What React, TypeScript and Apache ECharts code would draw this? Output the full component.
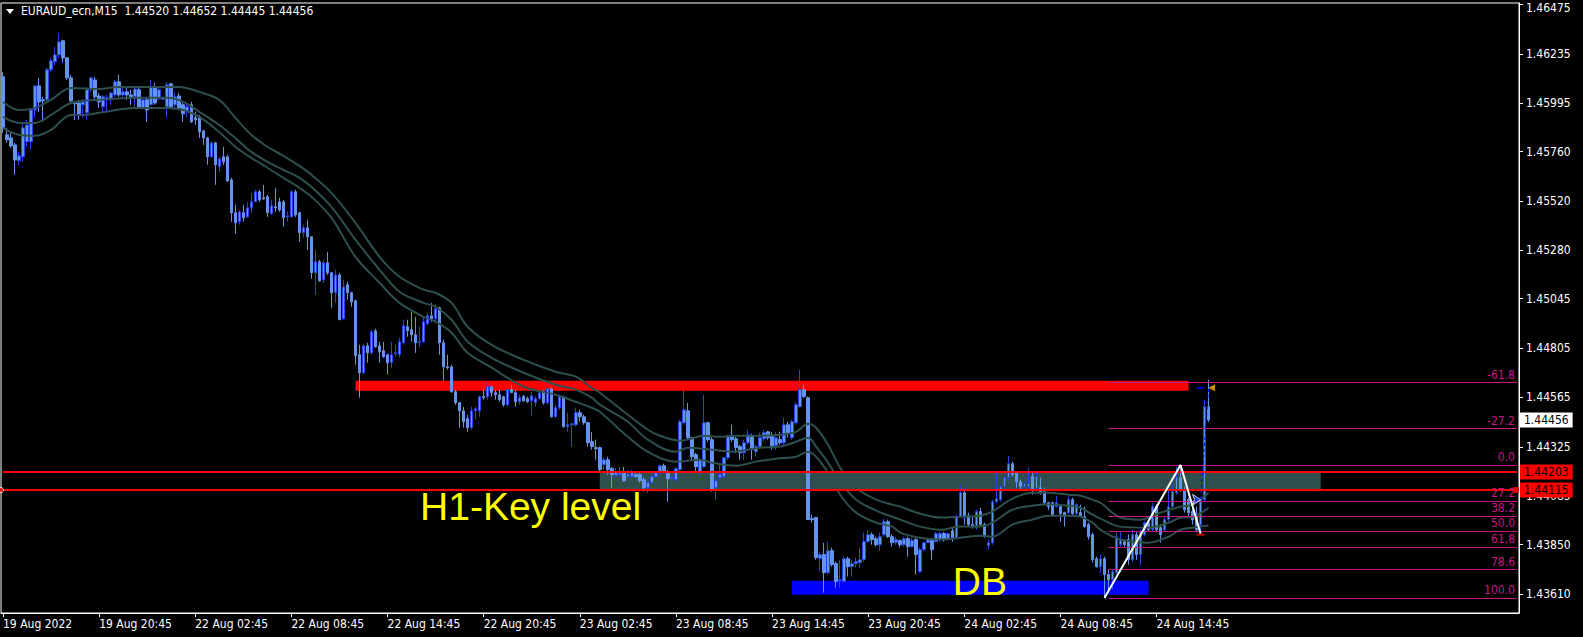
import React, { useEffect, useRef } from "react";
import * as echarts from "echarts";

const SYMBOL = "EURAUD_ecn,M15";
const N_SLOTS = 379;

const opens = [
1.46124,1.45842,1.45827,1.45793,1.45716,1.45735,1.45808,1.45808,1.45963,1.46080,
1.46012,1.46012,1.46158,1.46197,1.46231,1.46299,1.46216,1.46119,1.45997,1.45997,
1.45988,1.45949,1.46061,1.46109,1.46031,1.45978,1.46017,1.46012,1.46036,1.46100,
1.46036,1.46051,1.46036,1.46027,1.46061,1.45973,1.46012,1.45988,1.46075,1.46017,
1.46022,1.45978,1.46090,1.45988,1.46031,1.45988,1.45954,1.45988,1.45925,1.45929,
1.45861,1.45827,1.45735,1.45803,1.45686,1.45735,1.45735,1.45623,1.45463,1.45419,
1.45463,1.45443,1.45487,1.45516,1.45565,1.45536,1.45541,1.45458,1.45492,1.45516,
1.45516,1.45443,1.45443,1.45565,1.45463,1.45366,1.45390,1.45346,1.45171,1.45225,
1.45137,1.45220,1.45171,1.45074,1.45161,1.44948,1.45113,1.45074,1.45035,1.44773,
1.44685,1.44816,1.44782,1.44889,1.44816,1.44792,1.44773,1.44734,1.44778,1.44773,
1.44831,1.44909,1.44894,1.44870,1.44831,1.44836,1.44923,1.44962,1.44948,1.45001,
1.44831,1.44714,1.44714,1.44593,1.44539,1.44500,1.44462,1.44418,1.44500,1.44500,
1.44569,1.44569,1.44617,1.44588,1.44578,1.44569,1.44530,1.44603,1.44588,1.44544,
1.44569,1.44559,1.44549,1.44539,1.44559,1.44593,1.44539,1.44607,1.44471,1.44515,
1.44569,1.44423,1.44432,1.44432,1.44491,1.44471,1.44442,1.44350,1.44321,1.44321,
1.44238,1.44262,1.44219,1.44185,1.44190,1.44199,1.44180,1.44180,1.44190,1.44190,
1.44165,1.44126,1.44151,1.44180,1.44199,1.44233,1.44204,1.44170,1.44165,1.44214,
1.44442,1.44500,1.44369,1.44287,1.44199,1.44228,1.44442,1.44360,1.44126,1.44175,
1.44180,1.44272,1.44379,1.44364,1.44326,1.44296,1.44345,1.44379,1.44301,1.44326,
1.44364,1.44398,1.44379,1.44330,1.44360,1.44345,1.44432,1.44369,1.44442,1.44520,
1.44603,1.44564,1.43976,1.43981,1.43781,1.43801,1.43713,1.43820,1.43757,1.43674,
1.43670,1.43781,1.43742,1.43757,1.43762,1.43776,1.43864,1.43898,1.43878,1.43849,
1.43898,1.43961,1.43888,1.43859,1.43869,1.43849,1.43878,1.43840,1.43874,1.43718,
1.43825,1.43859,1.43874,1.43864,1.43874,1.43903,1.43878,1.43917,1.43883,1.43985,
1.44102,1.43990,1.43947,1.43932,1.44010,1.43947,1.43844,1.43859,1.44058,1.44068,
1.44131,1.44175,1.44243,1.44199,1.44155,1.44131,1.44131,1.44180,1.44121,1.44126,
1.44107,1.44053,1.44053,1.44034,1.44034,1.44005,1.44005,1.44068,1.44000,1.44005,
1.43985,1.43947,1.43898,1.43781,1.43742,1.43781,1.43704,1.43679,1.43713,1.43849,
1.43864,1.43874,1.43776,1.43898,1.43801,1.43898,1.43956,1.43922,1.44034,1.43932,
1.43922,1.43971,1.44034,1.44102,1.44175,1.44117,1.44068,1.44010,1.43995,1.43947,
1.44068,1.44520];

const highs = [
1.46148,1.45876,1.45852,1.45803,1.45759,1.45905,1.45915,1.45973,1.46085,1.46119,
1.46027,1.46168,1.46216,1.46270,1.46338,1.46304,1.46221,1.46134,1.46007,1.46012,
1.46017,1.46075,1.46124,1.46124,1.46046,1.46036,1.46036,1.46051,1.46109,1.46134,
1.46075,1.46070,1.46061,1.46070,1.46070,1.46022,1.46022,1.46109,1.46095,1.46070,
1.46027,1.46100,1.46095,1.46046,1.46046,1.45997,1.46002,1.46002,1.45954,1.45939,
1.45866,1.45832,1.45808,1.45808,1.45735,1.45784,1.45745,1.45633,1.45502,1.45477,
1.45502,1.45516,1.45560,1.45575,1.45575,1.45599,1.45550,1.45526,1.45584,1.45536,
1.45526,1.45468,1.45575,1.45575,1.45468,1.45405,1.45429,1.45346,1.45283,1.45234,
1.45234,1.45273,1.45176,1.45186,1.45171,1.45137,1.45127,1.45079,1.45040,1.44821,
1.44826,1.44831,1.44894,1.44899,1.44836,1.44836,1.44778,1.44836,1.44821,1.44855,
1.44943,1.44943,1.44982,1.44957,1.44909,1.44957,1.44977,1.45025,1.45021,1.45006,
1.44846,1.44773,1.44724,1.44603,1.44544,1.44520,1.44481,1.44520,1.44520,1.44573,
1.44603,1.44641,1.44617,1.44603,1.44603,1.44573,1.44612,1.44627,1.44603,1.44578,
1.44578,1.44569,1.44593,1.44569,1.44593,1.44603,1.44622,1.44612,1.44530,1.44578,
1.44573,1.44491,1.44442,1.44515,1.44505,1.44481,1.44447,1.44398,1.44360,1.44326,
1.44272,1.44277,1.44228,1.44224,1.44228,1.44228,1.44214,1.44214,1.44199,1.44199,
1.44175,1.44155,1.44190,1.44209,1.44238,1.44243,1.44214,1.44190,1.44228,1.44457,
1.44632,1.44539,1.44374,1.44296,1.44272,1.44578,1.44447,1.44374,1.44175,1.44238,
1.44277,1.44384,1.44432,1.44374,1.44335,1.44360,1.44408,1.44389,1.44335,1.44394,
1.44408,1.44403,1.44398,1.44398,1.44398,1.44467,1.44447,1.44457,1.44544,1.44700,
1.44627,1.44569,1.43995,1.43985,1.43810,1.43859,1.43864,1.43835,1.43767,1.43776,
1.43791,1.43791,1.43776,1.43786,1.43835,1.43908,1.43922,1.43908,1.43888,1.43908,
1.43976,1.43971,1.43898,1.43888,1.43874,1.43888,1.43888,1.43883,1.43883,1.43835,
1.43864,1.43883,1.43883,1.43912,1.43912,1.43912,1.43908,1.43932,1.43995,1.44141,
1.44117,1.44005,1.43990,1.44019,1.44029,1.43956,1.43874,1.44068,1.44199,1.44141,
1.44180,1.44282,1.44253,1.44204,1.44165,1.44151,1.44224,1.44199,1.44199,1.44175,
1.44126,1.44058,1.44058,1.44087,1.44044,1.44010,1.44083,1.44078,1.44049,1.44044,
1.44034,1.43956,1.43908,1.43791,1.43801,1.43791,1.43728,1.43728,1.43908,1.43912,
1.43874,1.43898,1.43922,1.43912,1.43922,1.43966,1.43971,1.44053,1.44044,1.43947,
1.43985,1.44117,1.44141,1.44228,1.44237,1.44131,1.44078,1.44034,1.44034,1.44078,
1.44554,1.44652];

const lows = [
1.45852,1.45803,1.45779,1.45648,1.45696,1.45711,1.45784,1.45769,1.45925,1.45954,
1.45905,1.46002,1.46148,1.46182,1.46216,1.46192,1.46109,1.46002,1.45915,1.45915,
1.45925,1.45915,1.46051,1.46017,1.45973,1.45949,1.45954,1.45988,1.46027,1.46027,
1.46027,1.46012,1.45988,1.45978,1.45973,1.45963,1.45905,1.45988,1.45988,1.46012,
1.46012,1.45925,1.45973,1.45963,1.45963,1.45905,1.45929,1.45900,1.45890,1.45827,
1.45793,1.45696,1.45730,1.45599,1.45662,1.45696,1.45613,1.45419,1.45361,1.45405,
1.45419,1.45439,1.45463,1.45516,1.45516,1.45526,1.45443,1.45453,1.45468,1.45468,
1.45395,1.45419,1.45439,1.45443,1.45322,1.45341,1.45283,1.45142,1.45064,1.45127,
1.45123,1.45161,1.45001,1.45025,1.44943,1.44943,1.45040,1.45006,1.44724,1.44564,
1.44676,1.44734,1.44773,1.44807,1.44734,1.44758,1.44676,1.44710,1.44763,1.44758,
1.44821,1.44860,1.44836,1.44782,1.44812,1.44831,1.44919,1.44933,1.44933,1.44773,
1.44646,1.44700,1.44588,1.44530,1.44418,1.44418,1.44398,1.44408,1.44457,1.44471,
1.44554,1.44554,1.44569,1.44554,1.44544,1.44520,1.44520,1.44588,1.44520,1.44530,
1.44544,1.44539,1.44476,1.44520,1.44554,1.44530,1.44530,1.44467,1.44467,1.44505,
1.44418,1.44398,1.44326,1.44423,1.44447,1.44432,1.44326,1.44311,1.44262,1.44204,
1.44214,1.44190,1.44126,1.44175,1.44175,1.44155,1.44165,1.44165,1.44175,1.44151,
1.44107,1.44102,1.44141,1.44175,1.44190,1.44199,1.44058,1.44126,1.44155,1.44204,
1.44432,1.44360,1.44262,1.44199,1.44175,1.44224,1.44350,1.44107,1.44068,1.44165,
1.44175,1.44262,1.44350,1.44296,1.44262,1.44262,1.44335,1.44262,1.44277,1.44321,
1.44350,1.44360,1.44311,1.44311,1.44335,1.44335,1.44369,1.44360,1.44432,1.44515,
1.44564,1.43971,1.43956,1.43776,1.43718,1.43616,1.43704,1.43742,1.43640,1.43640,
1.43665,1.43694,1.43694,1.43738,1.43738,1.43767,1.43859,1.43849,1.43840,1.43820,
1.43888,1.43883,1.43840,1.43849,1.43835,1.43840,1.43791,1.43835,1.43704,1.43713,
1.43815,1.43859,1.43776,1.43859,1.43864,1.43864,1.43869,1.43864,1.43874,1.43981,
1.43947,1.43937,1.43927,1.43922,1.43937,1.43883,1.43825,1.43849,1.44053,1.44058,
1.44126,1.44165,1.44180,1.44126,1.44117,1.44126,1.44117,1.44092,1.44117,1.44092,
1.44044,1.44019,1.43985,1.44029,1.43961,1.43937,1.43995,1.43990,1.43990,1.43981,
1.43932,1.43874,1.43762,1.43738,1.43713,1.43590,1.43631,1.43631,1.43704,1.43840,
1.43840,1.43752,1.43767,1.43776,1.43752,1.43888,1.43912,1.43912,1.43908,1.43859,
1.43912,1.43961,1.44029,1.44092,1.44107,1.44005,1.43985,1.43947,1.43908,1.43903,
1.44058,1.44445];

const closes = [
1.45876,1.45818,1.45788,1.45720,1.45740,1.45876,1.45890,1.45963,1.46080,1.46002,
1.46007,1.46158,1.46202,1.46231,1.46294,1.46216,1.46119,1.46007,1.45993,1.45939,
1.46002,1.46061,1.46119,1.46027,1.46002,1.46027,1.46022,1.46046,1.46100,1.46036,
1.46051,1.46036,1.46027,1.46065,1.45973,1.46012,1.45963,1.46075,1.45997,1.46061,
1.46017,1.46085,1.45978,1.46027,1.45973,1.45944,1.45978,1.45905,1.45915,1.45856,
1.45827,1.45735,1.45803,1.45696,1.45725,1.45711,1.45618,1.45463,1.45414,1.45468,
1.45439,1.45487,1.45516,1.45565,1.45526,1.45531,1.45463,1.45497,1.45487,1.45477,
1.45439,1.45448,1.45565,1.45453,1.45366,1.45390,1.45346,1.45171,1.45225,1.45132,
1.45220,1.45171,1.45074,1.45161,1.44943,1.45103,1.45074,1.45030,1.44768,1.44685,
1.44816,1.44782,1.44884,1.44812,1.44787,1.44763,1.44734,1.44773,1.44782,1.44836,
1.44914,1.44889,1.44870,1.44831,1.44836,1.44933,1.44962,1.44948,1.44996,1.44831,
1.44714,1.44710,1.44593,1.44539,1.44500,1.44447,1.44418,1.44500,1.44510,1.44569,
1.44564,1.44617,1.44588,1.44578,1.44554,1.44530,1.44603,1.44588,1.44544,1.44564,
1.44549,1.44544,1.44573,1.44559,1.44588,1.44539,1.44607,1.44471,1.44515,1.44569,
1.44423,1.44432,1.44437,1.44491,1.44471,1.44442,1.44345,1.44326,1.44316,1.44214,
1.44262,1.44214,1.44190,1.44204,1.44199,1.44160,1.44190,1.44199,1.44180,1.44160,
1.44126,1.44151,1.44180,1.44199,1.44233,1.44204,1.44170,1.44175,1.44219,1.44447,
1.44505,1.44369,1.44277,1.44228,1.44262,1.44442,1.44360,1.44117,1.44160,1.44190,
1.44272,1.44379,1.44360,1.44321,1.44296,1.44345,1.44384,1.44311,1.44326,1.44369,
1.44394,1.44369,1.44330,1.44369,1.44345,1.44432,1.44394,1.44447,1.44530,1.44603,
1.44569,1.43971,1.43971,1.43786,1.43801,1.43713,1.43820,1.43752,1.43670,1.43679,
1.43781,1.43742,1.43757,1.43767,1.43776,1.43864,1.43898,1.43874,1.43849,1.43888,
1.43961,1.43888,1.43859,1.43874,1.43849,1.43878,1.43840,1.43869,1.43801,1.43825,
1.43859,1.43874,1.43825,1.43903,1.43903,1.43874,1.43903,1.43878,1.43985,1.44102,
1.43985,1.43947,1.43937,1.44010,1.43947,1.43888,1.43859,1.44058,1.44073,1.44131,
1.44175,1.44243,1.44190,1.44155,1.44131,1.44146,1.44146,1.44121,1.44180,1.44102,
1.44053,1.44034,1.43995,1.44053,1.44000,1.43985,1.44068,1.44000,1.44044,1.43990,
1.43937,1.43888,1.43776,1.43742,1.43781,1.43704,1.43679,1.43718,1.43888,1.43874,
1.43849,1.43776,1.43898,1.43801,1.43908,1.43956,1.43922,1.44034,1.43922,1.43898,
1.43971,1.44034,1.44107,1.44175,1.44117,1.44019,1.44005,1.43971,1.43922,1.44068,
1.44520,1.44456];

// moving-average band lines: [bar index, price]
const maUpper = [[0,1.46002],[4,1.45963],[8,1.45973],[12,1.46012],[17,1.46070],[24,1.46065],[29,1.46075],[37,1.46075],[44,1.46075],[49,1.46051],[54,1.46012],[58,1.45925],[62,1.45842],[66,1.45784],[70,1.45740],[74,1.45691],[77,1.45648],[82,1.45560],[88,1.45414],[94,1.45249],[99,1.45152],[105,1.45089],[108,1.45074],[112,1.45025],[116,1.44909],[122,1.44821],[130,1.44748],[138,1.44690],[143,1.44666],[147,1.44612],[149,1.44588],[156,1.44481],[161,1.44408],[164,1.44379],[169,1.44355],[171,1.44360],[175,1.44379],[179,1.44374],[183,1.44379],[189,1.44379],[194,1.44384],[198,1.44398],[201,1.44437],[203,1.44418],[206,1.44335],[209,1.44224],[213,1.44126],[218,1.44068],[222,1.44044],[224,1.44034],[229,1.44000],[234,1.43981],[239,1.43985],[244,1.43990],[247,1.44010],[252,1.44073],[257,1.44102],[261,1.44102],[266,1.44092],[269,1.44087],[272,1.44068],[274,1.44053],[279,1.43981],[284,1.43971],[289,1.44005],[294,1.44034],[297,1.44044],[301,1.44102]];
const maMid = [[0,1.45929],[4,1.45900],[8,1.45900],[12,1.45939],[17,1.45997],[24,1.46012],[33,1.46022],[41,1.46022],[45,1.46002],[49,1.45954],[54,1.45890],[58,1.45827],[62,1.45759],[66,1.45711],[70,1.45672],[74,1.45633],[77,1.45589],[82,1.45492],[88,1.45332],[94,1.45186],[99,1.45079],[105,1.45025],[108,1.45006],[112,1.44943],[116,1.44836],[122,1.44758],[130,1.44685],[138,1.44627],[143,1.44603],[147,1.44564],[149,1.44530],[156,1.44447],[161,1.44360],[168,1.44301],[171,1.44321],[177,1.44311],[182,1.44301],[189,1.44321],[194,1.44326],[198,1.44350],[201,1.44369],[203,1.44326],[206,1.44248],[209,1.44155],[213,1.44068],[218,1.44015],[222,1.43985],[224,1.43971],[229,1.43937],[234,1.43922],[239,1.43937],[244,1.43937],[247,1.43956],[252,1.44019],[257,1.44039],[261,1.44044],[266,1.44039],[269,1.44029],[272,1.43995],[274,1.43976],[279,1.43937],[286,1.43932],[291,1.43956],[294,1.43981],[297,1.43985],[301,1.44029]];
const maLower = [[0,1.45876],[4,1.45842],[8,1.45837],[12,1.45866],[17,1.45939],[20,1.45939],[24,1.45949],[33,1.45973],[41,1.45973],[45,1.45963],[49,1.45929],[54,1.45856],[58,1.45784],[62,1.45730],[66,1.45682],[70,1.45633],[74,1.45584],[77,1.45541],[82,1.45439],[88,1.45249],[94,1.45123],[99,1.45025],[105,1.44957],[108,1.44933],[112,1.44880],[116,1.44782],[122,1.44710],[130,1.44617],[138,1.44578],[143,1.44544],[147,1.44515],[149,1.44496],[156,1.44374],[161,1.44301],[168,1.44253],[174,1.44262],[177,1.44248],[183,1.44233],[188,1.44253],[193,1.44267],[198,1.44277],[201,1.44301],[203,1.44277],[206,1.44199],[209,1.44092],[213,1.44005],[218,1.43956],[222,1.43937],[224,1.43908],[229,1.43883],[234,1.43874],[239,1.43883],[244,1.43893],[247,1.43888],[252,1.43947],[257,1.43971],[261,1.43990],[266,1.43990],[269,1.43985],[272,1.43956],[274,1.43922],[279,1.43874],[286,1.43859],[291,1.43888],[294,1.43922],[297,1.43932],[301,1.43942]];

const yTicks = [1.46475,1.46235,1.45995,1.45760,1.45520,1.45280,1.45045,1.44805,1.44565,1.44325,1.44085,1.43850,1.43610];

const keyLevels = [1.44203, 1.44115];
// zones: [startBar, topPrice, endBar, bottomPrice]
const resistanceZone = [88, 1.44646, 296, 1.44598];
const keyZone = [149, 1.44203, 329, 1.44115];
const dbZone = [197, 1.43674, 286, 1.43606];

const fibRatios = [-0.618, -0.272, 0, 0.272, 0.382, 0.5, 0.618, 0.786, 1];
const fibNames = ["-61.8", "-27.2", "0.0", "27.2", "38.2", "50.0", "61,8", "78.6", "100.0"];
const fibLowBar = 275, fibHighBar = 294, fibPullBar = 299;
const fibStartBar = 276;

const notes = [
  { text: "H1-Key level", bar: 104, price: 1.44037 },
  { text: "DB", bar: 237, price: 1.43672 },
];

const UI_FONT = "'DejaVu Sans Condensed', 'DejaVu Sans', sans-serif";

function buildTimes(): string[] {
  const out: string[] = [];
  let day = 19;
  let m = 14 * 60 + 45;
  for (let i = 0; i < N_SLOTS; i++) {
    const hh = String(Math.floor(m / 60)).padStart(2, "0");
    const mm = String(m % 60).padStart(2, "0");
    out.push(i === 0 ? `${day} Aug 2022` : `${day} Aug ${hh}:${mm}`);
    m += 15;
    if (m >= 1440) { m = 0; day = day === 19 ? 22 : day + 1; }
  }
  return out;
}

export default function App() {
  const ref = useRef<HTMLDivElement>(null);
  useEffect(() => {
    const chart = echarts.init(ref.current!, null, { renderer: "svg" });
    const times = buildTimes();
    const nBars = opens.length;
    const showIdx = (i: number) => i % 24 === 0 && i < nBars;
    const candles = opens.map((o, i) => [o, closes[i], lows[i], highs[i]]);
    const fibHigh = highs[fibHighBar];
    const fibLow = lows[fibLowBar];
    const lastSlot = N_SLOTS - 1;
    const fibLines = fibRatios.map((r, k) => {
      const p = fibHigh - r * (fibHigh - fibLow);
      return [
        { coord: [fibStartBar, p], label: { formatter: fibNames[k] } },
        { coord: [lastSlot, p] },
      ];
    });
    const last = nBars - 1;
    const f5 = (v: number) => v.toFixed(5);
    const topTick = Math.max(...yTicks);
    const area = (z: number[], color: string) => [
      { coord: [z[0], z[1]], itemStyle: { color, opacity: 1 } },
      { coord: [z[2], z[3]] },
    ];
    const maSeries = (data: number[][]) => ({
      type: "line", data, showSymbol: false, smooth: 0.35, z: 3, silent: true,
      lineStyle: { color: "#2f4f4f", width: 2 },
    });
    const priceTag = (v: number, bg: string, lineColor: string) => [
      { coord: [0, v], lineStyle: { color: lineColor }, label: { formatter: f5(v), backgroundColor: bg, color: "#000000" } },
      { coord: [lastSlot, v] },
    ];

    chart.setOption({
      animation: false,
      backgroundColor: "#000",
      textStyle: { fontFamily: UI_FONT },
      grid: { left: 1, top: 3, width: 1518, height: 610, show: true, borderColor: "#ffffff", borderWidth: 1, backgroundColor: "#000", containLabel: false, outerBoundsMode: "none" },
      xAxis: {
        type: "category", data: times, boundaryGap: true,
        axisLine: { show: true, lineStyle: { color: "#ffffff", width: 1 } },
        axisTick: { show: true, interval: showIdx, alignWithLabel: true, length: 4, lineStyle: { color: "#ffffff" } },
        axisLabel: { interval: showIdx, color: "#ffffff", fontSize: 12, fontFamily: UI_FONT, align: "left", margin: 5 },
        splitLine: { show: false },
      },
      yAxis: {
        type: "value", position: "right", min: 1.43517, max: 1.46483,
        axisLine: { show: true, lineStyle: { color: "#ffffff", width: 1 } },
        axisTick: { show: true, length: 4, customValues: yTicks, lineStyle: { color: "#ffffff" } },
        axisLabel: {
          customValues: yTicks,
          formatter: (v: number) => (Math.abs(v - topTick) < 1e-7 ? `{top|${f5(v)}}` : f5(v)),
          color: "#ffffff", fontSize: 12, fontFamily: UI_FONT, margin: 7,
          rich: { top: { color: "#ffffff", fontSize: 12, fontFamily: UI_FONT, padding: [7, 0, 0, 0] } },
        },
        splitLine: { show: false },
      },
      graphic: [
        { type: "polygon", shape: { points: [[6, 9], [14, 9], [10, 14]] }, style: { fill: "#ffffff" } },
        { type: "text", left: 21, top: 5, style: { text: `${SYMBOL}  ${f5(opens[last])} ${f5(highs[last])} ${f5(lows[last])} ${f5(closes[last])}`, fill: "#ffffff", font: `12px ${UI_FONT}` } },
      ],
      series: [
        {
          name: "zones", type: "line", data: [], z: 1, silent: true,
          markArea: {
            silent: true, itemStyle: { opacity: 1 },
            data: [area(resistanceZone, "#ff0000"), area(keyZone, "#2f4f4f"), area(dbZone, "#0000ff")],
          },
        },
        {
          name: "candles", type: "candlestick", data: candles, barWidth: 3, z: 2, silent: true,
          itemStyle: { color: "#6495ED", color0: "#6495ED", borderColor: "#2443e8", borderColor0: "#6495ED", borderWidth: 1 },
        },
        maSeries(maUpper),
        maSeries(maMid),
        maSeries(maLower),
        {
          name: "levels", type: "line", data: [], z: 4, silent: true,
          markLine: {
            silent: true, symbol: "none",
            lineStyle: { color: "#ff0000", width: 2, type: "solid" },
            label: { position: "end", distance: 3, color: "#000000", padding: [2, 4, 1, 4], fontSize: 12, fontFamily: UI_FONT },
            data: [
              priceTag(closes[last], "#ffffff", "rgba(0,0,0,0)"),
              ...keyLevels.map((v) => priceTag(v, "#ff0000", "#ff0000")),
            ],
          },
        },
        {
          name: "fibo", type: "line", data: [], z: 4, silent: true,
          markLine: {
            silent: true, symbol: "none",
            lineStyle: { color: "#c71585", width: 1, type: "solid" },
            label: { position: "insideEndTop", distance: 2, color: "#c71585", fontSize: 12, fontFamily: UI_FONT },
            data: fibLines,
          },
        },
        {
          name: "zigzag", type: "line", z: 5, silent: true, showSymbol: false,
          data: [[fibLowBar, fibLow], [fibHighBar, fibHigh], [fibPullBar, lows[fibPullBar]]],
          lineStyle: { color: "#ffffff", width: 2 },
        },
        {
          name: "trade", type: "line", z: 5, silent: true, showSymbol: false,
          data: [[fibPullBar, 1.44068], [last, 1.44612]],
          lineStyle: { color: "#0000ff", width: 1, type: [3, 3] },
        },
        {
          name: "markers", type: "scatter", z: 6, silent: true,
          data: [
            { value: [fibPullBar, lows[fibPullBar] - 0.00005], symbol: "rect", symbolSize: [8, 2], itemStyle: { color: "#ff0000" } },
            { value: [fibPullBar, 1.44612], symbol: "rect", symbolSize: [8, 2], itemStyle: { color: "#0000ff" } },
            { value: [last, 1.44612], symbol: "triangle", symbolRotate: 90, symbolSize: 7, symbolOffset: [3, 0], itemStyle: { color: "#f0b020" } },
            { value: [fibPullBar, 1.44068], symbol: "arrow", symbolRotate: -90, symbolSize: 8, itemStyle: { color: "#2040ff", borderColor: "#ffffff", borderWidth: 1 } },
            { value: [lastSlot, keyLevels[1]], symbol: "rect", symbolSize: 6, symbolOffset: [-1, 0], itemStyle: { color: "#ff0000" } },
            { value: [0, keyLevels[1]], symbol: "circle", symbolSize: 5, symbolOffset: [-2, 0], itemStyle: { color: "#ff0000", borderColor: "#ffffff", borderWidth: 1 } },
          ],
        },
        {
          name: "notes", type: "line", data: [], z: 7, silent: true,
          markPoint: {
            silent: true,
            data: notes.map((n) => ({
              coord: [n.bar, n.price], symbol: "rect", symbolSize: 1,
              itemStyle: { color: "rgba(0,0,0,0)" },
              label: { show: true, position: "right", distance: 0, formatter: n.text, color: "#ffff00", fontSize: 39, fontFamily: "'Liberation Sans', Arial, sans-serif" },
            })),
          },
        },
      ],
    });
    return () => chart.dispose();
  }, []);
  return <div ref={ref} style={{ position: "absolute", left: 0, top: 0, width: 1583, height: 637, background: "#000" }} />;
}
